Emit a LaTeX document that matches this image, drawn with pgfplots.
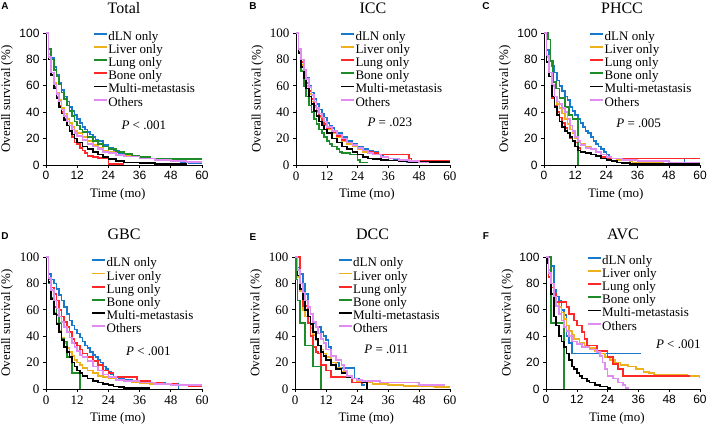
\documentclass[border=0pt]{standalone}
\usepackage{fontspec}
\setmainfont{Liberation Serif}
\newfontfamily\sansf{Liberation Sans}
\usepackage{pgfplots}
\pgfplotsset{compat=1.18}
\definecolor{cBlue}{RGB}{25,122,205}
\definecolor{cOrange}{RGB}{237,177,32}
\definecolor{cGreen}{RGB}{30,140,40}
\definecolor{cRed}{RGB}{255,40,40}
\definecolor{cPink}{RGB}{225,140,240}
\pgfplotsset{
 km/.style={scale only axis, width=156bp, height=132bp, xmin=0, xmax=60, ymin=0, ymax=100,
  axis x line*=bottom, axis y line*=left, axis line style={line width=0.6bp},
  xtick={0,12,24,36,48,60}, ytick={0,20,40,60,80,100},
  tick align=outside, major tick length=3bp, every tick/.style={black, line width=0.6bp},
  /pgf/number format/assume math mode=true,
  xlabel={Time (mo)}, ylabel={Overall survival (\%)},
  label style={font=\fontsize{13bp}{13bp}\selectfont},
  ylabel style={at={(rel axis cs:-0.25,0.5)}, anchor=center},
  xlabel style={at={(rel axis cs:0.46,-0.22)}, anchor=center},
  title style={at={(rel axis cs:0.5,1.145)}, anchor=center, font=\fontsize{16bp}{16bp}\selectfont},
  legend style={draw=none, fill=none, anchor=north west, font=\fontsize{13bp}{13bp}\selectfont,
    row sep=0pt, inner sep=0pt, nodes={inner sep=0.6bp, text height=9bp, text depth=3bp}},
  legend cell align=left,
  legend image code/.code={\draw[#1, line width=1.7bp] (0bp,3.5bp) -- (13bp,3.5bp);},
  every axis plot/.append style={const plot, no marks, line width=1.7bp},
 },
 sansticks/.style={tick label style={font=\sansf\fontsize{12bp}{12bp}\selectfont}},
 serifticks/.style={tick label style={font=\fontsize{13bp}{13bp}\selectfont}},
}
\newcommand{\ptext}[1]{\fontsize{13bp}{13bp}\selectfont #1}
\begin{document}
\begin{tikzpicture}
\useasboundingbox (0,0) rectangle (709bp,426bp);
\node[font=\sansf\bfseries\fontsize{10bp}{10bp}\selectfont] at (5bp,420bp) {A};
\node[font=\sansf\bfseries\fontsize{10bp}{10bp}\selectfont] at (253bp,420bp) {B};
\node[font=\sansf\bfseries\fontsize{10bp}{10bp}\selectfont] at (486bp,420bp) {C};
\node[font=\sansf\bfseries\fontsize{10bp}{10bp}\selectfont] at (5bp,190bp) {D};
\node[font=\sansf\bfseries\fontsize{10bp}{10bp}\selectfont] at (253bp,189bp) {E};
\node[font=\sansf\bfseries\fontsize{10bp}{10bp}\selectfont] at (486bp,190bp) {F};

% ---------------- A: Total
\begin{axis}[km, sansticks, at={(46bp,261bp)}, anchor=south west, title={Total},
  legend style={at={(rel axis cs:0.30,1.02)}}]
\addplot[cBlue] coordinates {(0,100)(1,88)(2,81)(3,74)(4,68)(5,62)(6,57)(7,52)(8,48)(9,44)(10,41)(11,38)(12,35)(13,32)(14,29)(15,27)(16,25)(17,23)(18,21)(19,19)(20,18)(22,15)(24,13)(26,11)(28,9)(30,8)(33,7)(36,5.5)(40,5)(44,4)(48,3)(52,2)(55,1.5)(60,1.5)};
\addplot[cOrange] coordinates {(0,100)(1,84)(2,70)(3,62)(4,55)(5,49)(6,43)(7,39)(8,35)(9,32)(10,29)(11,26)(12,24)(14,21)(16,18)(18,15)(20,13)(22,11)(24,10)(27,8)(30,7)(36,5)(42,4)(48,3)(54,2.5)(60,2)};
\addplot[cGreen] coordinates {(0,100)(1,88)(2,80)(3,72)(4,67)(5,61)(6,55)(7,50)(8,45)(9,41)(10,37)(11,33)(12,30)(13,27)(14,25)(16,21)(18,18)(20,16)(22,14)(24,12)(27,10)(30,8.5)(33,7)(36,6)(40,5)(48,4.5)(60,4)};
\addplot[cRed] coordinates {(0,100)(1,80)(2,68)(3,59)(4,52)(5,45)(6,40)(7,35)(8,30)(9,26)(10,21)(11,17)(12,16)(13,13)(14,11)(15,9)(16,7)(18,6)(20,5.5)(24,0.5)(30,0.5)};
\addplot[black] coordinates {(0,100)(1,80)(2,68)(3,58)(4,51)(5,44)(6,39)(7,34)(8,30)(9,26)(10,23)(11,20)(12,17)(14,14)(16,12)(18,10)(20,8)(22,6)(24,4.5)(27,3)(30,2)(36,1.5)(42,1)(48,0.5)(54,0.3)};
\addplot[cPink] coordinates {(0,100)(1,82)(2,70)(3,61)(4,54)(5,48)(6,42)(7,37)(8,33)(9,30)(10,27)(11,24)(12,22)(14,19)(16,16)(18,14)(20,12)(22,10)(24,9)(27,7.5)(30,6.5)(36,5)(42,4)(48,3)(54,2.5)(60,2)};
\legend{dLN only, Liver only, Lung only, Bone only, Multi-metastasis, Others}
\node[anchor=west] at (axis cs:27.7,30.3) {\ptext{\textit{P} < .001}};
\end{axis}

% ---------------- B: ICC
\begin{axis}[km, serifticks, width=154bp, at={(296bp,261bp)}, anchor=south west, title={ICC},
  legend style={at={(rel axis cs:0.286,1.02)}}]
\addplot[cBlue] coordinates {(0,100)(1,88)(2,80)(3,72)(4,66)(5,60)(6,55)(7,50)(8,46)(9,42)(10,39)(11,36)(12,32)(13,30)(14,28)(15,26)(16,24)(18,21)(20,18)(22,16)(24,14)(26,12)(28,11)(30,10)(32,8)(34,6)(36,5)(38,4)(40,3)(43,2)(44,2)};
\addplot[cOrange] coordinates {(0,100)(1,85)(2,76)(3,68)(4,60)(5,54)(6,48)(7,44)(8,40)(9,36)(10,33)(11,30)(12,27)(14,24)(16,21)(18,18)(20,16)(22,14)(24,12)(26,10)(28,9)(30,8)(33,6)(36,5)(40,4)(44,3)(52,2)(60,1.5)};
\addplot[cRed] coordinates {(0,100)(1,88)(2,78)(3,70)(4,62)(5,56)(6,50)(7,45)(8,41)(9,37)(10,34)(11,31)(12,28)(14,25)(16,22)(18,19)(20,17)(22,15)(24,13)(26,11)(28,10)(30,9)(32,8)(44,5)(45,3)(60,3)};
\addplot[cGreen] coordinates {(0,100)(1,86)(2,71)(3,60)(4,52)(5,45)(6,40)(7,35)(8,31)(9,27)(10,24)(11,21)(12,18)(13,16)(14,14)(16,12)(17,10)(18,9)(21,8)(24,4)(25,2)(28,2)};
\addplot[black] coordinates {(0,100)(1,85)(2,74)(3,66)(4,58)(5,52)(6,46)(7,41)(8,37)(9,33)(10,30)(11,27)(12,24)(14,20)(16,17)(18,14)(20,12)(22,10)(24,8)(26,6)(28,5)(30,4.5)(33,4)(36,3.5)(40,3)(44,2.5)(60,2.5)};
\addplot[cPink] coordinates {(0,100)(1,88)(2,80)(3,72)(4,65)(5,59)(6,53)(7,48)(8,43)(9,39)(10,36)(11,33)(12,29)(14,26)(16,23)(18,20)(20,17)(22,15)(24,13)(26,11)(28,9)(30,8)(33,6)(36,5)(40,4)(44,3)(48,2)(52,2)};
\legend{dLN only, Liver only, Lung only, Bone only, Multi-metastasis, Others}
\node[anchor=west] at (axis cs:26.5,32) {\ptext{\textit{P} = .023}};
\end{axis}

% ---------------- C: PHCC
\begin{axis}[km, sansticks, at={(544bp,261bp)}, anchor=south west, title={PHCC},
  legend style={at={(rel axis cs:0.29,1.02)}}]
\addplot[cBlue] coordinates {(0,100)(1,87)(2,79)(3,75)(4,70)(5,64)(6,60)(7,56)(8,52)(9,49)(10,44)(11,41)(12,38)(13,35)(14,32)(15,29)(16,26)(17,24)(18,21)(19,18)(20,16)(21,14)(22,12)(23,10)(24,8)(25,6)(26,5)(53,5)(54,2)(58,1)(60,1)};
\addplot[cOrange] coordinates {(0,100)(1,82)(2,67)(3,60)(4,52)(5,46)(6,43)(7,39)(8,35)(9,31)(10,27)(11,24)(12,20)(13,17)(14,16)(16,14)(18,12)(20,10)(22,8)(24,6)(26,5)(28,4)(30,3.5)(33,3)(34,1.5)(46,1)(60,1)};
\addplot[cRed] coordinates {(0,100)(1,78)(2,67)(3,51)(4,45)(5,40)(6,36)(7,32)(8,28)(9,24)(10,20)(11,18)(12,17)(13,13)(14,10)(16,9)(18,8)(20,7)(22,6)(24,5)(60,5)};
\addplot[cGreen] coordinates {(0,100)(1.5,95)(2.5,79)(3.5,63)(4.5,58)(6,51)(8,44)(9.5,38)(11,35)(13,0)};
\addplot[black] coordinates {(0,100)(1,78)(2,67)(3,52)(4,44)(5,38)(6,33)(7,29)(8,26)(9,24)(10,21)(11,18)(12,14)(13,11)(14,10)(16,9)(18,8)(20,7)(22,5)(24,4)(26,3)(28,2)(30,1.5)(33,1)(60,1)};
\addplot[cPink] coordinates {(0,100)(1,83)(2,70)(3,61)(4,52)(5,48)(6,46)(7,43)(8,40)(9,35)(10,30)(11,26)(12,21)(13,18)(14,15)(16,13)(18,12)(20,10)(22,8)(24,6)(26,5)(30,4)(36,3)(48,2)(60,2)};
\legend{dLN only, Liver only, Lung only, Bone only, Multi-metastasis, Others}
\node[anchor=west] at (axis cs:26.5,31.8) {\ptext{\textit{P} = .005}};
\end{axis}

% ---------------- D: GBC
\begin{axis}[km, serifticks, at={(46bp,37bp)}, anchor=south west, title={GBC},
  title style={at={(rel axis cs:0.5,1.13)}},
  legend style={at={(rel axis cs:0.29,1.0)}}]
\addplot[cBlue] coordinates {(0,100)(1,87)(2,83)(3,80)(4,76)(5,71)(6,67)(7,62)(8,57)(9,52)(10,48)(11,45)(12,42)(13,39)(14,36)(15,33)(16,31)(17,28)(18,26)(19,24)(20,22)(21,20)(22,17)(23,15)(24,13)(25,11)(26,9)(28,8)(30,7)(33,6)(36,5)(46,4)(51,0)};
\addplot[cOrange] coordinates {(0,100)(1,80)(2,68)(3,58)(4,50)(5,44)(6,39)(7,35)(8,31)(9,28)(10,25)(11,22)(12,20)(13,18)(14,16)(16,14)(18,12)(20,10)(22,9)(24,8)(27,7)(30,6)(33,5)(36,4.5)(40,4)(45,3.5)(50,3)(55,2.5)(60,2)};
\addplot[cRed] coordinates {(0,100)(1,83)(2,77)(3,72)(4,67)(5,60)(6,55)(7,51)(8,47)(9,43)(10,38)(11,35)(12,33)(13,30)(14,27)(16,24)(18,21)(20,18)(22,14)(24,12)(26,9)(35,6)(40,5)(45,4)(50,3)(55,2.5)(60,2)};
\addplot[cGreen] coordinates {(0,100)(1,80)(2,69)(3,62)(4,56)(5,50)(6,38)(7,36)(8,24)(10,12)(13,0)};
\addplot[black] coordinates {(0,100)(1,81)(2,68)(3,57)(4,49)(5,43)(6,37)(7,32)(8,28)(9,24)(10,20)(11,17)(12,14)(13,12)(14,10)(16,8)(18,6)(20,5)(22,4)(24,3)(26,2)(28,1.5)(30,1)(34,0.8)(38,0.5)(40,0.5)};
\addplot[cPink] coordinates {(0,100)(1,84)(2,75)(3,67)(4,61)(5,55)(6,51)(7,47)(8,43)(9,39)(10,35)(11,32)(12,29)(13,26)(14,24)(16,21)(18,17)(20,14)(22,11)(24,9)(27,7)(30,6)(36,5)(42,4)(48,3)(54,3)(60,2)};
\legend{dLN only, Liver only, Lung only, Bone only, Multi-metastasis, Others}
\node[anchor=west] at (axis cs:29.5,28.8) {\ptext{\textit{P} < .001}};
\end{axis}

% ---------------- E: DCC
\begin{axis}[km, serifticks, width=155bp, at={(295bp,37bp)}, anchor=south west, title={DCC},
  title style={at={(rel axis cs:0.5,1.13)}},
  legend style={at={(rel axis cs:0.275,1.0)}}]
\addplot[cBlue] coordinates {(0,100)(1,92)(2,87)(3,80)(4,72)(5,62)(6,57)(7,50)(8,47)(10,43)(11,40)(12,37)(13,32)(14,20)(17,16)(23,8)(25,5)(26,3)(27,3)};
\addplot[cOrange] coordinates {(0,100)(1,85)(2,74)(3,60)(4,55)(5,50)(6,46)(7,41)(8,37)(9,33)(10,30)(11,27)(12,24)(14,20)(16,16)(18,13)(20,10)(22,8)(24,6)(26,5)(30,4)(36,3)(42,2.5)(48,2)(54,1.5)(60,1)};
\addplot[cRed] coordinates {(0,100)(2,80)(3,63)(5,50)(6,40)(7,32)(8,28)(9,27)(10,18)(12,14)(14,9)(22,5)(26,4)};
\addplot[cGreen] coordinates {(0,100)(0.5,83)(1,67)(2,50)(4,33)(7,17)(10,0)};
\addplot[black] coordinates {(0,100)(1,86)(2,76)(3,68)(4,60)(5,55)(6,49)(7,43)(8,38)(9,33)(10,28)(11,25)(12,22)(14,18)(16,15)(18,12)(20,9)(22,8)(24,7)(26,5)(28,0)};
\addplot[cPink] coordinates {(0,100)(1,90)(2,80)(3,73)(4,67)(5,62)(6,57)(7,51)(8,47)(9,42)(10,38)(11,35)(12,30)(14,25)(16,22)(18,18)(19,14)(20,10)(22,8)(24,7)(26,6)(33,5)(48,3)(58,3)};
\legend{dLN only, Liver only, Lung only, Bone only, Multi-metastasis, Others}
\node[anchor=west] at (axis cs:25.5,30.3) {\ptext{\textit{P} = .011}};
\end{axis}

% ---------------- F: AVC
\begin{axis}[km, sansticks, width=154bp, at={(546bp,37bp)}, anchor=south west, title={AVC},
  title style={at={(rel axis cs:0.5,1.13)}},
  legend style={at={(rel axis cs:0.264,1.02)}}]
\addplot[cBlue] coordinates {(0,100)(2,93)(3,75)(4,70)(5,67)(6,60)(7,56)(8,40)(9,35)(10,27)(37,27)};
\addplot[cOrange] coordinates {(0,100)(1,90)(2,80)(3,72)(4,66)(5,62)(6,58)(7,53)(8,48)(9,44)(10,41)(11,38)(13,35)(15,33)(17,31)(19,29)(21,27)(23,24)(25,22)(27,20)(29,18)(32,17)(35,15)(38,13)(40,12)(42,11)(55,10)(57,10)(60,8)};
\addplot[cRed] coordinates {(0,100)(1,85)(2,77)(3,72)(4,66)(8,62)(9,57)(11,52)(12,48)(14,43)(15,38)(16,33)(20,29)(24,24)(26,19)(28,15)(30,10)(56,10)};
\addplot[cGreen] coordinates {(0,100)(2,50)(7,0)};
\addplot[black] coordinates {(0,100)(0.5,95)(1,88)(2,72)(3,55)(4,48)(5,40)(6,36)(7,32)(8,27)(9,22)(10,17)(11,15)(12,12)(13,10)(14,8)(16,6)(17,5)(19,3)(21,2)(24,1)(25,0)};
\addplot[cPink] coordinates {(0,100)(1,88)(2,80)(3,70)(4,63)(5,57)(6,52)(7,47)(8,44)(9,40)(10,36)(12,34)(14,32)(17,30)(20,28)(21,25)(22,20)(23,15)(24,10)(26,8)(28,5)(30,3)(31,1)(32,0)};
\legend{dLN only, Liver only, Lung only, Bone only, Multi-metastasis, Others}
\node[anchor=west] at (axis cs:41.5,34) {\ptext{\textit{P} < .001}};
\end{axis}
\end{tikzpicture}
\end{document}
